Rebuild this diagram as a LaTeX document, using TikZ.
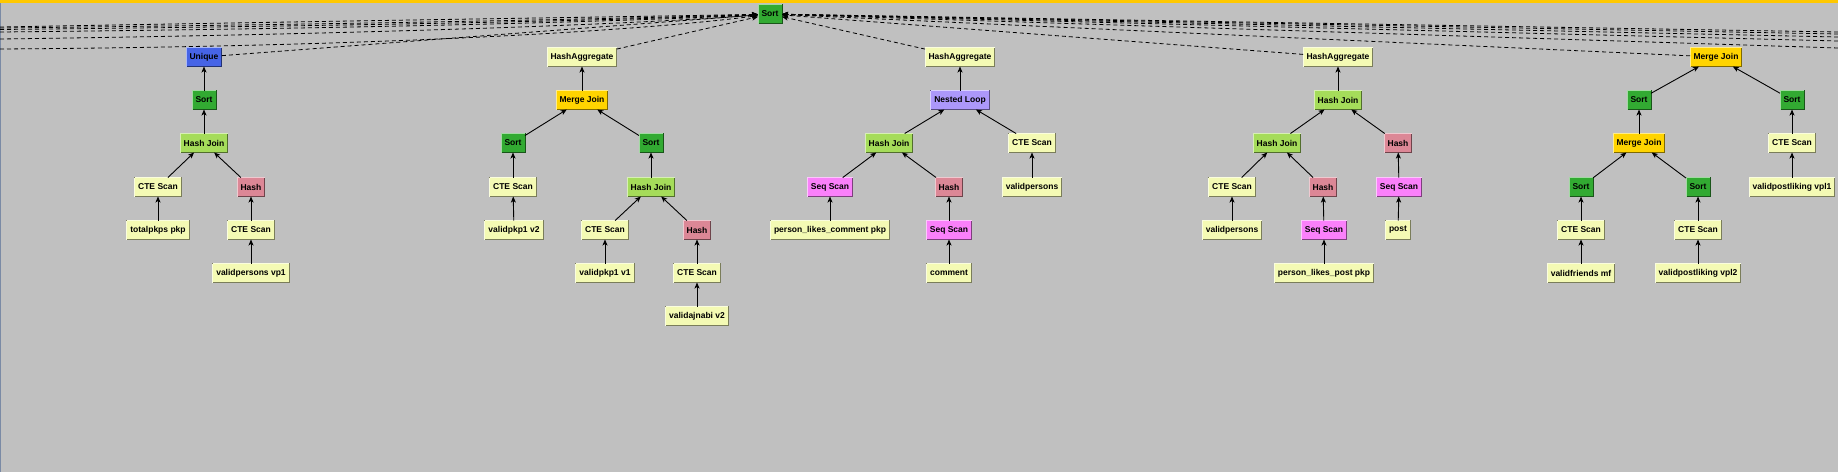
\documentclass[tikz,border=0pt]{standalone}
\usepackage{fontspec}
\newfontfamily\opfont{Liberation Sans}
\usetikzlibrary{arrows.meta}

\definecolor{canvas}{RGB}{192,192,192}
\definecolor{topbar}{RGB}{255,200,0}
\definecolor{rim}{RGB}{122,138,165}
\definecolor{sortc}{RGB}{50,170,50}
\definecolor{uniqc}{RGB}{70,100,230}
\definecolor{hjc}{RGB}{165,220,90}
\definecolor{scanc}{RGB}{244,250,180}
\definecolor{hashc}{RGB}{220,135,150}
\definecolor{mjc}{RGB}{255,212,0}
\definecolor{nlc}{RGB}{172,152,250}
\definecolor{seqc}{RGB}{250,128,250}

\tikzset{
  planbox/.style={rectangle, fill=#1, draw=#1!50!black, line width=1pt, outer sep=0pt,
    inner xsep=3.5pt, inner ysep=0pt, minimum height=19pt, text=black,
    font=\opfont\bfseries\fontsize{8.5}{10}\selectfont,
    append after command={(\tikzlastnode.south west) edge[draw=white!55!#1, line width=1pt] (\tikzlastnode.north west)
      (\tikzlastnode.north west) edge[draw=white!55!#1, line width=1pt] (\tikzlastnode.north east)}},
  flow/.style={line width=0.9pt, -{Stealth[length=6pt,width=5pt,inset=1.5pt]}},
  feed/.style={line width=0.8pt, dash pattern=on 4pt off 3pt, -{Stealth[length=6pt,width=5pt,inset=1.5pt]}}
}

\begin{document}
\begin{tikzpicture}[x=1pt, y=-1pt]
\useasboundingbox (0,0) rectangle (1838,472);
\fill [canvas] (0,0) rectangle (1838,472);
\fill [topbar] (0,0) rectangle (1838,3);
\fill [rim] (0,3) rectangle (1.3,472);

\node [planbox=sortc] (top) at (770,14) {Sort};

\node [planbox=uniqc] (u1) at (204,57) {Unique};
\node [planbox=sortc] (u2) at (204,100) {Sort};
\node [planbox=hjc] (u3) at (204,143) {Hash Join};
\node [planbox=scanc] (u4) at (158,187) {CTE Scan};
\node [planbox=hashc] (u5) at (251,187) {Hash};
\node [planbox=scanc] (u6) at (158,230) {totalpkps pkp};
\node [planbox=scanc] (u7) at (251,230) {CTE Scan};
\node [planbox=scanc] (u8) at (251,273) {validpersons vp1};

\node [planbox=scanc] (a1) at (582,57) {HashAggregate};
\node [planbox=mjc] (a2) at (582,100) {Merge Join};
\node [planbox=sortc] (a3) at (513,143) {Sort};
\node [planbox=sortc] (a4) at (651,143) {Sort};
\node [planbox=scanc] (a5) at (513,187) {CTE Scan};
\node [planbox=hjc] (a6) at (651,187) {Hash Join};
\node [planbox=scanc] (a7) at (514,230) {validpkp1 v2};
\node [planbox=scanc] (a8) at (605,230) {CTE Scan};
\node [planbox=hashc] (a9) at (697,230) {Hash};
\node [planbox=scanc] (a10) at (605,273) {validpkp1 v1};
\node [planbox=scanc] (a11) at (697,273) {CTE Scan};
\node [planbox=scanc] (a12) at (697,316) {validajnabi v2};

\node [planbox=scanc] (b1) at (960,57) {HashAggregate};
\node [planbox=nlc] (b2) at (960,100) {Nested Loop};
\node [planbox=hjc] (b3) at (889,143) {Hash Join};
\node [planbox=scanc] (b4) at (1032,143) {CTE Scan};
\node [planbox=seqc] (b5) at (830,187) {Seq Scan};
\node [planbox=hashc] (b6) at (949,187) {Hash};
\node [planbox=scanc] (b7) at (1032,187) {validpersons};
\node [planbox=scanc] (b8) at (830,230) {person\_likes\_comment pkp};
\node [planbox=seqc] (b9) at (949,230) {Seq Scan};
\node [planbox=scanc] (b10) at (949,273) {comment};

\node [planbox=scanc] (c1) at (1338,57) {HashAggregate};
\node [planbox=hjc] (c2) at (1338,100) {Hash Join};
\node [planbox=hjc] (c3) at (1277,143) {Hash Join};
\node [planbox=hashc] (c4) at (1398,143) {Hash};
\node [planbox=scanc] (c5) at (1232,187) {CTE Scan};
\node [planbox=hashc] (c6) at (1323,187) {Hash};
\node [planbox=seqc] (c7) at (1399,187) {Seq Scan};
\node [planbox=scanc] (c8) at (1232,230) {validpersons};
\node [planbox=seqc] (c9) at (1324,230) {Seq Scan};
\node [planbox=scanc] (c10) at (1398,230) {post};
\node [planbox=scanc] (c11) at (1324,273) {person\_likes\_post pkp};

\node [planbox=mjc] (m1) at (1716,57) {Merge Join};
\node [planbox=sortc] (m2) at (1639,100) {Sort};
\node [planbox=sortc] (m3) at (1792,100) {Sort};
\node [planbox=mjc] (m4) at (1639,143) {Merge Join};
\node [planbox=scanc] (m5) at (1792,143) {CTE Scan};
\node [planbox=sortc] (m6) at (1581,187) {Sort};
\node [planbox=sortc] (m7) at (1698,187) {Sort};
\node [planbox=scanc] (m8) at (1792,187) {validpostliking vpl1};
\node [planbox=scanc] (m9) at (1581,230) {CTE Scan};
\node [planbox=scanc] (m10) at (1698,230) {CTE Scan};
\node [planbox=scanc] (m11) at (1581,273) {validfriends mf};
\node [planbox=scanc] (m12) at (1698,273) {validpostliking vpl2};

\coordinate (l1) at (0,27);
\coordinate (l2) at (0,28);
\coordinate (l3) at (0,29.5);
\coordinate (l4) at (0,32);
\coordinate (l5) at (0,39);
\coordinate (l6) at (0,49);
\coordinate (r1) at (1838,32);
\coordinate (r2) at (1838,34);
\coordinate (r3) at (1838,37);
\coordinate (r4) at (1838,41);
\coordinate (r5) at (1838,48);

\draw [feed] (l1) .. controls (450,19) and (680,16) .. (top);
\draw [feed] (l2) .. controls (450,23) and (680,17) .. (top);
\draw [feed] (l3) .. controls (450,25) and (680,18) .. (top);
\draw [feed] (l4) .. controls (450,27.5) and (680,19) .. (top);
\draw [feed] (l5) .. controls (450,33) and (680,21) .. (top);
\draw [feed] (l6) .. controls (450,46) and (680,26) .. (top);
\draw [feed] (r1) to (top);
\draw [feed] (r2) to (top);
\draw [feed] (r3) to (top);
\draw [feed] (r4) to (top);
\draw [feed] (r5) to (top);

\draw [feed] (u1) to (top);
\draw [feed] (a1) to (top);
\draw [feed] (b1) to (top);
\draw [feed] (c1) to (top);
\draw [feed] (m1) to (top);

\draw [flow] (u2) to (u1);
\draw [flow] (u3) to (u2);
\draw [flow] (u4) to (u3);
\draw [flow] (u5) to (u3);
\draw [flow] (u6) to (u4);
\draw [flow] (u7) to (u5);
\draw [flow] (u8) to (u7);

\draw [flow] (a2) to (a1);
\draw [flow] (a3) to (a2);
\draw [flow] (a4) to (a2);
\draw [flow] (a5) to (a3);
\draw [flow] (a6) to (a4);
\draw [flow] (a7) to (a5);
\draw [flow] (a8) to (a6);
\draw [flow] (a9) to (a6);
\draw [flow] (a10) to (a8);
\draw [flow] (a11) to (a9);
\draw [flow] (a12) to (a11);

\draw [flow] (b2) to (b1);
\draw [flow] (b3) to (b2);
\draw [flow] (b4) to (b2);
\draw [flow] (b5) to (b3);
\draw [flow] (b6) to (b3);
\draw [flow] (b7) to (b4);
\draw [flow] (b8) to (b5);
\draw [flow] (b9) to (b6);
\draw [flow] (b10) to (b9);

\draw [flow] (c2) to (c1);
\draw [flow] (c3) to (c2);
\draw [flow] (c4) to (c2);
\draw [flow] (c5) to (c3);
\draw [flow] (c6) to (c3);
\draw [flow] (c7) to (c4);
\draw [flow] (c8) to (c5);
\draw [flow] (c9) to (c6);
\draw [flow] (c10) to (c7);
\draw [flow] (c11) to (c9);

\draw [flow] (m2) to (m1);
\draw [flow] (m3) to (m1);
\draw [flow] (m4) to (m2);
\draw [flow] (m5) to (m3);
\draw [flow] (m6) to (m4);
\draw [flow] (m7) to (m4);
\draw [flow] (m8) to (m5);
\draw [flow] (m9) to (m6);
\draw [flow] (m10) to (m7);
\draw [flow] (m11) to (m9);
\draw [flow] (m12) to (m10);

\end{tikzpicture}
\end{document}
